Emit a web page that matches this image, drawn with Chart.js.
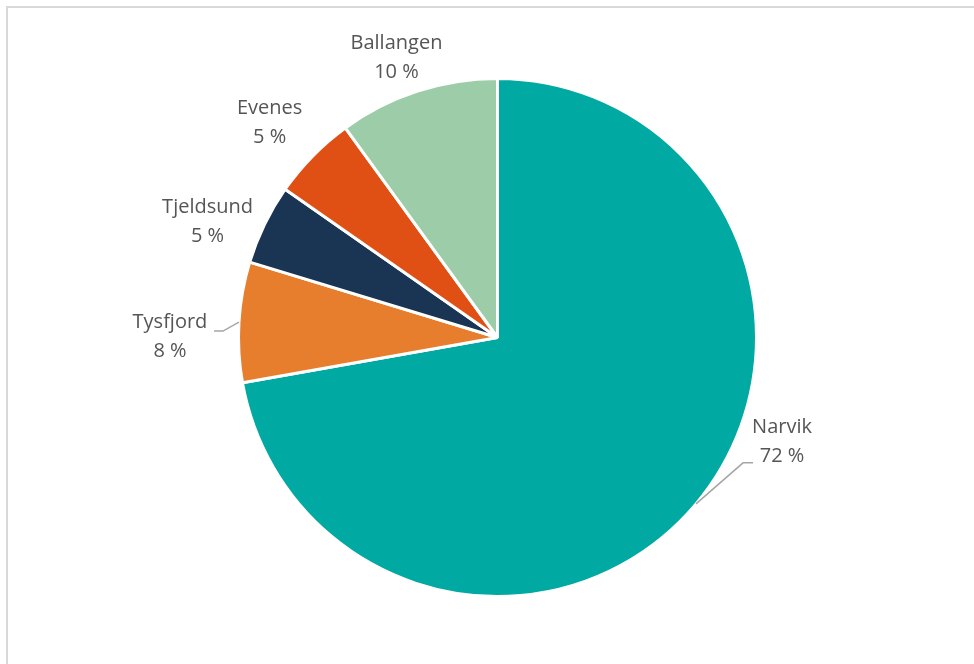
<!DOCTYPE html>
<html>
<head>
<meta charset="utf-8">
<script src="https://cdn.jsdelivr.net/npm/chart.js@4"></script>
<style>
    html, body { margin: 0; padding: 0; background: #fff; overflow: hidden; }
    #ramme { position: absolute; left: 6px; top: 6px; width: 1000px; height: 700px; border: 2px solid #d9d9d9; }
    #wrap { position: absolute; left: 0; top: 0; width: 974px; height: 664px; }
</style>
</head>
<body>
<div id="ramme"></div>
<div id="wrap"><canvas id="kakediagram"></canvas></div>
<script>
// Fordeling per kommune
var kommuner = ['Narvik', 'Tysfjord', 'Tjeldsund', 'Evenes', 'Ballangen'];
var andeler = [72.2, 7.5, 5.0, 5.3, 10.0];
var farger = ['#00a9a1', '#e67e2e', '#1a3553', '#e04f14', '#9ccda8'];

// etikett-forskyvning fra kanten av sektoren (dx, dy) og om den har linje
var etikettPlass = [
    { dx: 86, dy: -62, linje: true },
    { dx: -69, dy: 15, linje: true },
    { dx: -57, dy: -2, linje: false },
    { dx: -43, dy: -33, linje: false },
    { dx: -21, dy: -33, linje: false }
];

var etiketter = {
    id: 'etiketter',
    afterDatasetsDraw: function (chart) {
        var ctx = chart.ctx;
        var meta = chart.getDatasetMeta(0);
        var total = andeler.reduce(function (a, b) { return a + b; }, 0);
        ctx.save();
        ctx.font = '20px "Open Sans", sans-serif';
        ctx.fillStyle = '#555555';
        ctx.textAlign = 'center';
        ctx.textBaseline = 'middle';
        meta.data.forEach(function (arc, i) {
            var mid = (arc.startAngle + arc.endAngle) / 2;
            var r = arc.outerRadius;
            var ax = arc.x + Math.cos(mid) * r;
            var ay = arc.y + Math.sin(mid) * r;
            var p = etikettPlass[i];
            var lx = ax + p.dx;
            var ly = ay + p.dy;
            if (p.linje) {
                ctx.strokeStyle = '#a6a6a6';
                ctx.lineWidth = 1.5;
                ctx.beginPath();
                ctx.moveTo(ax, ay);
                if (p.dx > 0) {
                    ctx.lineTo(lx - 39, ly + 21);
                    ctx.lineTo(lx - 29, ly + 21);
                } else {
                    ctx.lineTo(lx + 53, ly - 6);
                    ctx.lineTo(lx + 44, ly - 6);
                }
                ctx.stroke();
            }
            var pst = Math.round(andeler[i] / total * 100) + ' %';
            ctx.fillText(kommuner[i], lx, ly - 15);
            ctx.fillText(pst, lx, ly + 14);
        });
        ctx.restore();
    }
};

document.addEventListener('DOMContentLoaded', function () {
    var ctx = document.getElementById('kakediagram').getContext('2d');
    new Chart(ctx, {
        type: 'pie',
        data: {
            labels: kommuner,
            datasets: [{
                data: andeler,
                backgroundColor: farger,
                borderColor: '#ffffff',
                borderWidth: 3
            }]
        },
        options: {
            responsive: true,
            maintainAspectRatio: false,
            animation: false,
            layout: {
                padding: { top: 77, bottom: 66, left: 237, right: 216 }
            },
            plugins: {
                legend: { display: false },
                tooltip: { enabled: false }
            }
        },
        plugins: [etiketter]
    });
});
</script>
</body>
</html>
